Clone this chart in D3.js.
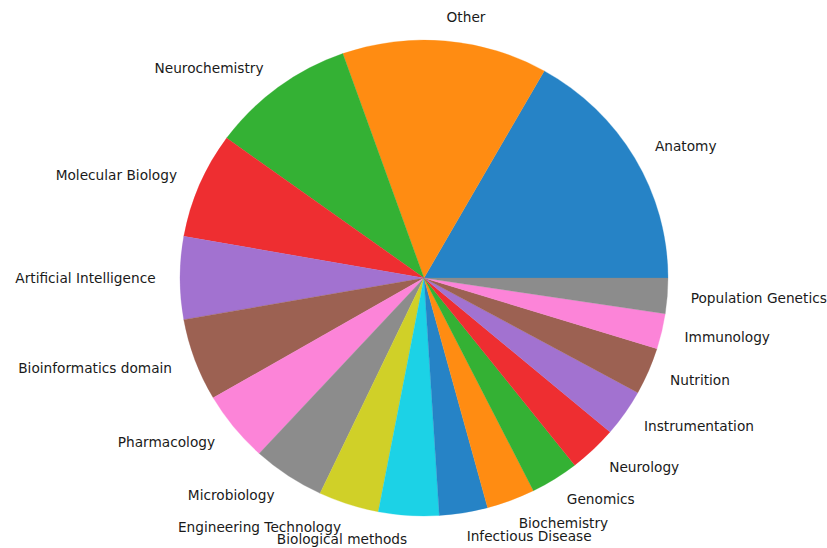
<!DOCTYPE html>
<html>
<head>
<meta charset="utf-8">
<script src="https://cdn.jsdelivr.net/npm/d3@7"></script>
<style>
html,body{margin:0;padding:0;background:#fff;}
svg{display:block;}
</style>
</head>
<body>
<svg id="chart" width="827" height="548"></svg>
<script>
const categories = ["Anatomy","Other","Neurochemistry","Molecular Biology","Artificial Intelligence","Bioinformatics domain","Pharmacology","Microbiology","Engineering Technology","Biological methods","Infectious Disease","Biochemistry","Genomics","Neurology","Instrumentation","Nutrition","Immunology","Population Genetics"];
const values = [21,17,12,9,7,7,6,6,5,5,4,4,4,4,4,4,3,3];
const palette = ["#2683C6","#FF8C12","#34B134","#EE2E31","#A272D0","#9C6152","#FC84D8","#8C8C8C","#D0D028","#1CD2E6"];

const svg = d3.select("#chart");
const cx = 424, cy = 278, rx = 244, ry = 238;

// matplotlib-style: start at 3 o'clock, counterclockwise
const total = d3.sum(values);
const angleScale = d3.scaleLinear().domain([0, total]).range([0, 2*Math.PI]);
let acc = 0;
const slices = values.map((v,i) => {
  const a0 = angleScale(acc); acc += v; const a1 = angleScale(acc);
  return {name: categories[i], value: v, a0, a1, color: palette[i % palette.length]};
});

const toD3 = a => Math.PI/2 - a;
const arc = d3.arc().innerRadius(0).outerRadius(rx);

const g = svg.append("g").attr("transform", `translate(${cx},${cy}) scale(1,${ry/rx})`);
g.selectAll("path").data(slices).join("path")
  .attr("d", d => arc({startAngle: toD3(d.a1), endAngle: toD3(d.a0)}))
  .attr("fill", d => d.color)
  .attr("stroke", d => d.color)
  .attr("stroke-width", 0.3);

const lg = svg.append("g");
slices.forEach(d => {
  const m = (d.a0 + d.a1)/2;
  const right = Math.cos(m) > 0;
  const x = cx + 1.1*rx*Math.cos(m) + (right ? -1 : 0);
  const y = cy - 1.1*ry*Math.sin(m);
  lg.append("text")
    .attr("x", x).attr("y", y)
    .attr("dy", "0.36em")
    .attr("text-anchor", right ? "start" : "end")
    .attr("font-family", "DejaVu Sans")
    .attr("font-size", "13.7px")
    .attr("fill", "#1a1a1a")
    .text(d.name);
});
</script>
</body>
</html>
